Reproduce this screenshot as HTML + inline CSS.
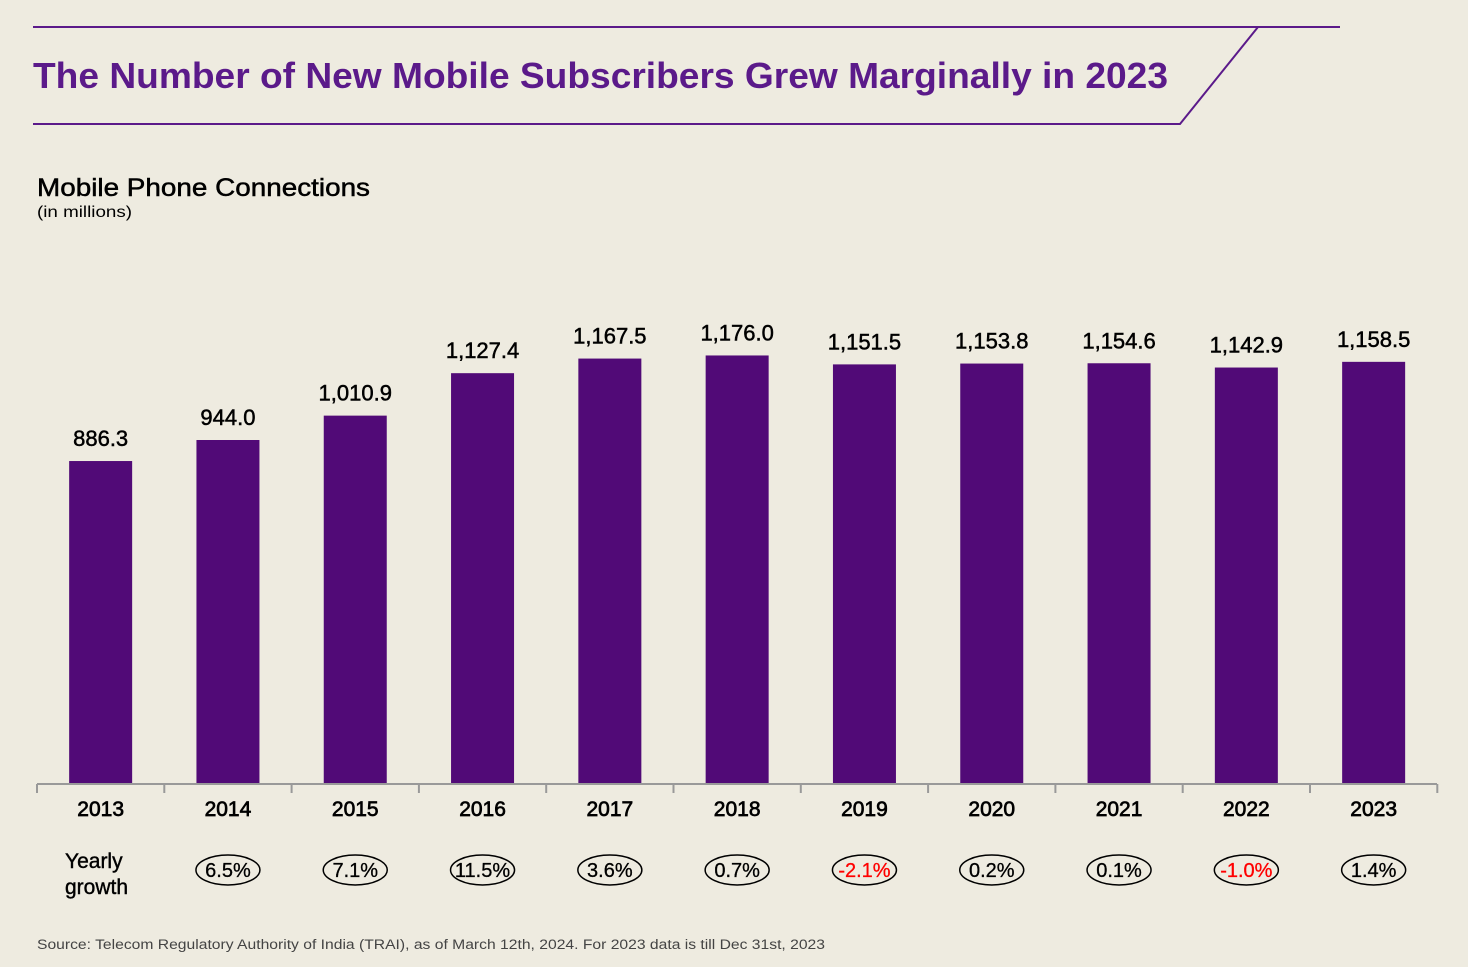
<!DOCTYPE html>
<html><head><meta charset="utf-8"><style>
body{margin:0;background:#eeebe0;}
svg text{font-family:"Liberation Sans",sans-serif;}
</style></head><body>
<svg width="1468" height="962" viewBox="0 0 1468 962" xmlns="http://www.w3.org/2000/svg">
<rect width="1468" height="962" fill="#eeebe0"/>
<polyline points="33,27 1340,27" stroke="#5b1a8a" stroke-width="2" fill="none"/>
<polyline points="33,124 1180,124 1258,27" stroke="#5b1a8a" stroke-width="2" fill="none"/>
<text x="33" y="88" font-size="36" font-weight="bold" fill="#5b1a8a" textLength="1135" lengthAdjust="spacingAndGlyphs">The Number of New Mobile Subscribers Grew Marginally in 2023</text>
<text x="37" y="196" font-size="25" fill="#000" stroke="#000" stroke-width="0.5" textLength="333" lengthAdjust="spacingAndGlyphs">Mobile Phone Connections</text>
<text x="37" y="217" font-size="16" fill="#000" textLength="95" lengthAdjust="spacingAndGlyphs">(in millions)</text>
<g id="bars"></g>
<line x1="37" y1="784" x2="1437" y2="784" stroke="#999" stroke-width="2"/>
<g id="ticks"></g>
<text x="65" y="868" font-size="21" fill="#000" stroke="#000" stroke-width="0.4">Yearly</text>
<text x="65" y="894" font-size="21" fill="#000" stroke="#000" stroke-width="0.4">growth</text>
<text x="37" y="949" font-size="13.5" fill="#444" textLength="788" lengthAdjust="spacingAndGlyphs">Source: Telecom Regulatory Authority of India (TRAI), as of March 12th, 2024. For 2023 data is till Dec 31st, 2023</text>
</svg>
<script>
const years=["2013","2014","2015","2016","2017","2018","2019","2020","2021","2022","2023"];
const connections=[886.3,944.0,1010.9,1127.4,1167.5,1176.0,1151.5,1153.8,1154.6,1142.9,1158.5];
const growth=[null,6.5,7.1,11.5,3.6,0.7,-2.1,0.2,0.1,-1.0,1.4];
const NS="http://www.w3.org/2000/svg";
const baseY=784, k=0.3644, left=37, step=127.3, barW=63;
function xc(i){return left+step*(i+0.5);}
function y(v){return baseY-v*k;}
const bars=document.getElementById('bars'), ticks=document.getElementById('ticks');
function mk(tag,attrs,parent){const e=document.createElementNS(NS,tag);for(const a in attrs)e.setAttribute(a,attrs[a]);parent.appendChild(e);return e;}
for(let i=0;i<=years.length;i++){
  const t=mk('line',{x1:left+step*i,x2:left+step*i,y1:baseY,y2:baseY+9,stroke:'#999','stroke-width':2},ticks);
  
  
}
years.forEach((yr,i)=>{
  const v=connections[i];
  const r=mk('rect',{x:xc(i)-barW/2,y:y(v),width:barW,height:baseY-y(v),fill:'#510a77'},bars);
  
  
  const l=mk('text',{x:xc(i),y:y(v)-15,'text-anchor':'middle','font-size':22,fill:'#000',stroke:'#000','stroke-width':0.5},bars);
  l.textContent=v.toLocaleString('en-US',{minimumFractionDigits:1,maximumFractionDigits:1});
  
  
  const xl=mk('text',{x:xc(i),y:816,'text-anchor':'middle','font-size':21,fill:'#000',stroke:'#000','stroke-width':0.7},bars);
  xl.textContent=yr;
  
  
  const g=growth[i];
  if(g!==null){
    const e=mk('ellipse',{cx:xc(i),cy:870,rx:32,ry:15,fill:'none',stroke:'#000','stroke-width':1.5},bars);
    
    
    const gt=mk('text',{x:xc(i),y:877,'text-anchor':'middle','font-size':20,fill:g<0?'#ff0000':'#000',stroke:g<0?'#ff0000':'#000','stroke-width':0.3},bars);
    gt.textContent=g.toFixed(1)+'%';
    
    
  }
});
</script>
</body></html>
